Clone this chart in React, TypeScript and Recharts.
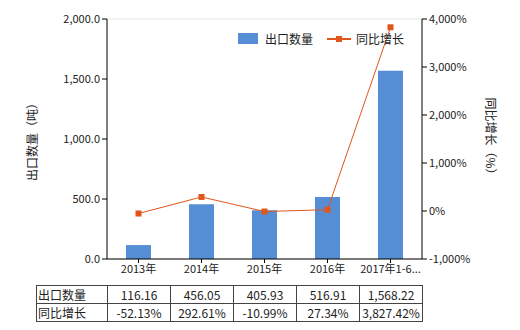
import React from "react";
import {
  ComposedChart, Bar, Line, XAxis, YAxis, CartesianGrid,
} from "recharts";

const categories = ["2013年", "2014年", "2015年", "2016年", "2017年1-6..."];
const exportQty = [116.16, 456.05, 405.93, 516.91, 1568.22];
const yoyGrowth = [-52.13, 292.61, -10.99, 27.34, 3827.42];
const qtyLabels = ["116.16", "456.05", "405.93", "516.91", "1,568.22"];
const growthLabels = ["-52.13%", "292.61%", "-10.99%", "27.34%", "3,827.42%"];
const leftTicks = [0, 500, 1000, 1500, 2000];
const rightTicks = [-1000, 0, 1000, 2000, 3000, 4000];

const BAR_COLOR = "#558ed5";
const LINE_COLOR = "#e0561b";
const FONT = "'Noto Sans CJK SC', 'Noto Sans', sans-serif";

const data = categories.map((name, i) => ({
  name,
  qty: exportQty[i],
  yoy: yoyGrowth[i],
}));

const fmtLeft = (v: number) =>
  v.toLocaleString("en-US", { minimumFractionDigits: 1, maximumFractionDigits: 1 });
const fmtRight = (v: number) => `${v.toLocaleString("en-US")}%`;

const SquareDot = (props: any) => {
  const { cx, cy } = props;
  if (cx == null || cy == null) return null;
  return <rect x={cx - 3} y={cy - 3} width={6} height={6} fill={LINE_COLOR} />;
};

const cell: React.CSSProperties = {
  border: "1px solid #444",
  padding: 0,
  textAlign: "center",
  fontSize: 12,
  color: "#222",
  height: 17,
  lineHeight: "17px",
};

export default function App() {
  return (
    <div style={{ position: "absolute", left: 0, top: 0, width: 520, height: 330, fontFamily: FONT, background: "#fff" }}>
      <ComposedChart
        width={520}
        height={330}
        data={data}
        margin={{ top: 19, right: 0, left: 0, bottom: 41 }}
        style={{ fontFamily: FONT }}
      >
        <CartesianGrid vertical={false} stroke="#e6e6e0" />
        <XAxis
          dataKey="name"
          height={30}
          tick={{ fontSize: 11, fill: "#222" }}
          tickLine={{ stroke: "#000" }}
          axisLine={{ stroke: "#000" }}
          tickSize={4}
          interval={0}
        />
        <YAxis
          yAxisId="left"
          width={107}
          domain={[0, 2000]}
          ticks={leftTicks}
          tickFormatter={fmtLeft}
          tick={{ fontSize: 11, fill: "#222" }}
          tickLine={{ stroke: "#000" }}
          axisLine={{ stroke: "#000" }}
          tickSize={5}
          label={{ value: "出口数量（吨）", angle: -90, position: "insideLeft", offset: 33, style: { fontSize: 12, fill: "#222", textAnchor: "middle" } }}
        />
        <YAxis
          yAxisId="right"
          orientation="right"
          width={98}
          domain={[-1000, 4000]}
          ticks={rightTicks}
          tickFormatter={fmtRight}
          tick={{ fontSize: 11, fill: "#222" }}
          tickLine={{ stroke: "#000" }}
          axisLine={{ stroke: "#000" }}
          tickSize={5}
          label={{ value: "同比增长（%）", angle: 90, position: "insideRight", offset: 30, style: { fontSize: 12, fill: "#222", textAnchor: "middle" } }}
        />
        <Bar yAxisId="left" dataKey="qty" fill={BAR_COLOR} barSize={25} isAnimationActive={false} />
        <Line
          yAxisId="right"
          dataKey="yoy"
          stroke={LINE_COLOR}
          strokeWidth={1}
          dot={<SquareDot />}
          activeDot={false}
          isAnimationActive={false}
        />
      </ComposedChart>

      {/* legend */}
      <div style={{ position: "absolute", left: 238, top: 30, display: "flex", alignItems: "center", fontSize: 12, color: "#222" }}>
        <span style={{ display: "inline-block", width: 20, height: 11, background: BAR_COLOR, marginRight: 7 }} />
        <span>出口数量</span>
        <svg width={24} height={12} style={{ marginLeft: 14, marginRight: 5 }}>
          <line x1={0} y1={6} x2={24} y2={6} stroke={LINE_COLOR} strokeWidth={2} />
          <rect x={9} y={3} width={6} height={6} fill={LINE_COLOR} />
        </svg>
        <span>同比增长</span>
      </div>

      {/* data table */}
      <table
        style={{
          position: "absolute",
          left: 36,
          top: 285,
          borderCollapse: "collapse",
          tableLayout: "fixed",
          fontFamily: FONT,
        }}
      >
        <colgroup>
          <col style={{ width: 71 }} />
          {categories.map((c) => (
            <col key={c} style={{ width: 63 }} />
          ))}
        </colgroup>
        <tbody>
          <tr>
            <td style={{ ...cell, textAlign: "left", paddingLeft: 1 }}>出口数量</td>
            {qtyLabels.map((t) => (
              <td key={t} style={cell}>{t}</td>
            ))}
          </tr>
          <tr>
            <td style={{ ...cell, textAlign: "left", paddingLeft: 1 }}>同比增长</td>
            {growthLabels.map((t) => (
              <td key={t} style={cell}>{t}</td>
            ))}
          </tr>
        </tbody>
      </table>
    </div>
  );
}
